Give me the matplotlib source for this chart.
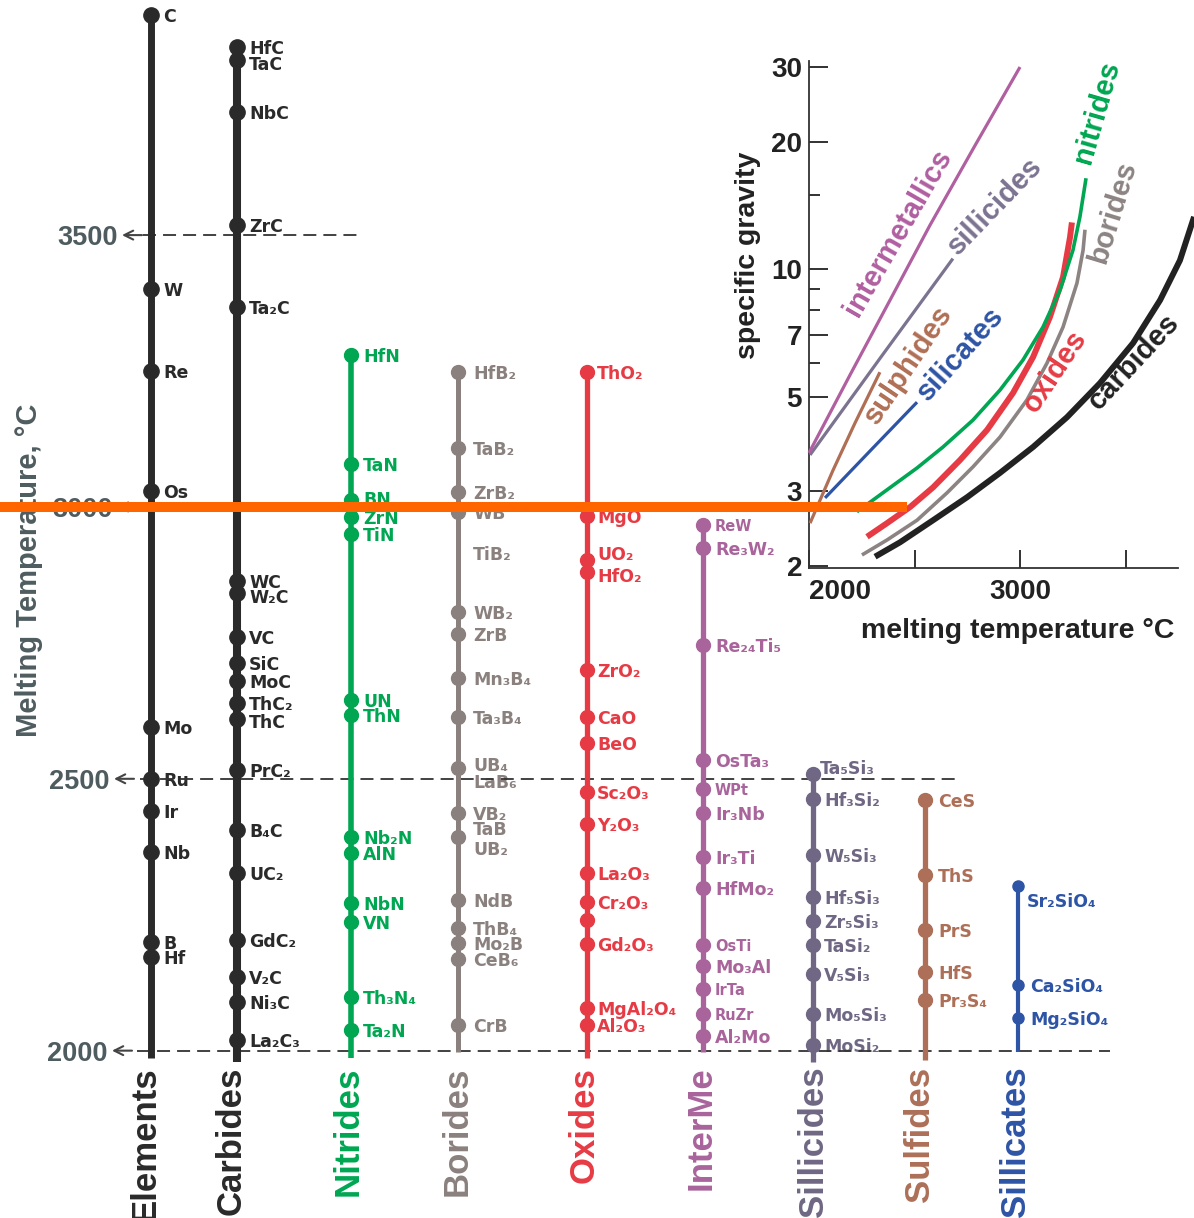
import matplotlib
matplotlib.use("Agg")
import matplotlib.pyplot as plt
from matplotlib.lines import Line2D
from matplotlib.ticker import NullFormatter

W, H, DPI = 1194, 1218, 100

# ---------------- melting temperatures (°C) ----------------
elements_names = ["C", "W", "Re", "Os", "Mo", "Ru", "Ir", "Nb", "B", "Hf"]
elements_T = [3905, 3400, 3250, 3030, 2595, 2500, 2440, 2365, 2200, 2172]

carbides_names = ["HfC", "TaC", "NbC", "ZrC", "Ta₂C", "WC", "W₂C", "VC", "SiC", "MoC",
                  "ThC₂", "ThC", "PrC₂", "B₄C", "UC₂", "GdC₂", "V₂C", "Ni₃C", "La₂C₃"]
carbides_T = [3846, 3822, 3726, 3519, 3368, 2863, 2842, 2761, 2713, 2679,
              2639, 2610, 2516, 2406, 2327, 2204, 2136, 2090, 2020]

nitrides_names = ["HfN", "TaN", "BN", "ZrN", "TiN", "UN", "ThN", "Nb₂N", "AlN",
                  "NbN", "VN", "Th₃N₄", "Ta₂N"]
nitrides_T = [3280, 3079, 3013, 2982, 2950, 2645, 2617, 2393, 2364,
              2272, 2237, 2099, 2038]

borides_names = ["HfB₂", "TaB₂", "ZrB₂", "WB", "TiB₂", "WB₂", "ZrB", "Mn₃B₄", "Ta₃B₄",
                 "UB₄", "LaB₆", "VB₂", "TaB", "UB₂", "NdB", "ThB₄", "Mo₂B", "CeB₆", "CrB"]
borides_T = [3248, 3108, 3028, 2991, 2915, 2806, 2766, 2685, 2614,
             2520, 2496, 2437, 2393, 2373, 2277, 2226, 2198, 2169, 2047]
borides_dot = [1, 1, 1, 1, 0, 1, 1, 1, 1, 1, 0, 1, 1, 0, 1, 1, 1, 1, 1]

oxides_names = ["ThO₂", "MgO", "UO₂", "HfO₂", "ZrO₂", "CaO", "BeO", "Sc₂O₃", "Y₂O₃",
                "La₂O₃", "Cr₂O₃", "", "Gd₂O₃", "MgAl₂O₄", "Al₂O₃"]
oxides_T = [3248, 2983, 2902, 2881, 2700, 2614, 2566, 2476, 2417,
            2327, 2273, 2240, 2197, 2079, 2047]

interme_names = ["ReW", "Re₃W₂", "Re₂₄Ti₅", "OsTa₃", "WPt", "Ir₃Nb", "Ir₃Ti", "HfMo₂",
                 "OsTi", "Mo₃Al", "IrTa", "RuZr", "Al₂Mo"]
interme_T = [2967, 2925, 2746, 2535, 2481, 2437, 2356, 2299,
             2195, 2156, 2113, 2067, 2027]

silicides_names = ["Ta₅Si₃", "Hf₃Si₂", "W₅Si₃", "Hf₅Si₃", "Zr₅Si₃", "TaSi₂", "V₅Si₃",
                   "Mo₅Si₃", "MoSi₂"]
silicides_T = [2509, 2462, 2360, 2283, 2238, 2195, 2141, 2067, 2011]

sulfides_names = ["CeS", "ThS", "PrS", "HfS", "Pr₃S₄"]
sulfides_T = [2461, 2323, 2222, 2145, 2093]

silicates_names = ["Sr₂SiO₄", "Ca₂SiO₄", "Mg₂SiO₄"]
silicates_T = [2303, 2121, 2060]

temp_ticks = [2000, 2500, 3000, 3500]

# ---------------- specific gravity vs melting temperature ----------------
inter_T = [2000, 2194, 2384, 2573, 2787, 3000]
inter_SG = [3.69, 5.63, 8.46, 12.7, 19.6, 30.0]
silicid_T = [2005, 2341, 2682]
silicid_SG = [3.65, 6.21, 10.6]
sulph_T = [2005, 2114, 2218, 2336]
sulph_SG = [2.52, 3.36, 4.34, 5.72]
silicat_T = [2076, 2294, 2512]
silicat_SG = [2.89, 3.75, 4.86]
nitr_T = [2227, 2370, 2512, 2635, 2777, 2905, 3014, 3109, 3190, 3251, 3284, 3313]
nitr_SG = [2.68, 3.02, 3.40, 3.81, 4.41, 5.19, 6.11, 7.31, 8.94, 11.1, 13.3, 16.4]
oxid_T = [2275, 2370, 2479, 2588, 2716, 2844, 2967, 3062, 3142, 3204, 3237, 3246]
oxid_SG = [2.34, 2.52, 2.75, 3.06, 3.55, 4.18, 5.11, 6.21, 7.72, 9.59, 11.9, 12.9]
borid_T = [2251, 2370, 2512, 2654, 2777, 2905, 3033, 3128, 3204, 3270, 3299, 3308]
borid_SG = [2.12, 2.30, 2.56, 2.97, 3.42, 4.02, 4.92, 6.01, 7.31, 9.28, 11.1, 12.4]
carb_T = [2313, 2431, 2588, 2749, 2905, 3062, 3223, 3379, 3536, 3664, 3758, 3825]
carb_SG = [2.10, 2.27, 2.56, 2.90, 3.31, 3.81, 4.48, 5.39, 6.70, 8.46, 10.5, 13.3]

sg_major = [2, 3, 5, 7, 10, 20, 30]
sg_minor = [6, 8, 9, 15]

# ---------------- styling ----------------
SLATE = "#4e5c60"
C_EL = "#2a2a2a"
C_NIT = "#00a651"
C_BOR = "#8a817f"
C_OX = "#e63b44"
C_IM = "#a8649b"
C_SID = "#6f6783"
C_SUL = "#ad6f57"
C_SIL = "#2e54a5"

LAB_FONT = "DejaVu Sans"
HEAD_FONT = ["Liberation Sans", "DejaVu Sans"]

fig = plt.figure(figsize=(W / DPI, H / DPI), dpi=DPI)
fig.patch.set_facecolor("white")

# main panel: x in layout units (pixels), y in °C
ax = fig.add_axes([0, 0, 1, 1])
ax.set_xlim(0, W)
ax.set_ylim(1692.2, 3932.4)
ax.axis("off")


def fx(x):
    return x / W


def fy(y):
    return 1 - y / H


columns = [
    dict(title="Elements", names=elements_names, temps=elements_T, x=151, color=C_EL,
         lw=5.0, ms=11, bottom=1987, tx=147),
    dict(title="Carbides", names=carbides_names, temps=carbides_T, x=237, color=C_EL,
         lw=5.8, ms=11, bottom=1980, tx=233),
    dict(title="Nitrides", names=nitrides_names, temps=nitrides_T, x=351, color=C_NIT,
         lw=4.0, ms=10, bottom=1987, tx=350),
    dict(title="Borides", names=borides_names, temps=borides_T, x=458, color=C_BOR,
         lw=3.6, ms=10, bottom=1998, tx=459, dots=borides_dot, dx=15),
    dict(title="Oxides", names=oxides_names, temps=oxides_T, x=587, color=C_OX,
         lw=3.8, ms=10, bottom=1987, tx=586, dx=10),
    dict(title="InterMe", names=interme_names, temps=interme_T, x=703, color=C_IM,
         lw=3.8, ms=10, bottom=1997, tx=703),
    dict(title="Sillicides", names=silicides_names, temps=silicides_T, x=813, color=C_SID,
         lw=3.8, ms=10, bottom=1980, tx=815, dx=11),
    dict(title="Sulfides", names=sulfides_names, temps=sulfides_T, x=925, color=C_SUL,
         lw=3.8, ms=10, bottom=1983, tx=922, dx=13),
    dict(title="Sillicates", names=silicates_names, temps=silicates_T, x=1018, color=C_SIL,
         lw=3.0, ms=8, bottom=1998, tx=1018, dx=12),
]

# label nudges in pixels (dx, dy) where labels sit off their dot
nudge = {"TaC": (0, 3), "W₂C": (0, 3), "ThC": (0, 2), "UB₄": (0, -4), "TaB": (0, -9),
         "Sr₂SiO₄": (-3, 14), "Ta₅Si₃": (-4, -7), "UO₂": (0, -7), "HfO₂": (0, 3),
         "BN": (0, -2), "LaB₆": (0, 0)}
small = {"ReW", "WPt", "IrTa", "RuZr", "OsTi"}

# reference temperature lines
dash = (0, (7.2, 3.9))
ax.plot([137, 1110], [2000, 2000], color="#333333", lw=1.3, ls=dash, zorder=2)
ax.plot([140, 958], [2500, 2500], color="#333333", lw=1.3, ls=dash, zorder=2)
ax.plot([143, 362], [3500, 3500], color="#333333", lw=1.3, ls=dash, zorder=2)

tick_right = {2000: 108, 2500: 110, 3000: 113, 3500: 118}
for t in temp_ticks:
    xr = tick_right[t]
    ax.text(xr, t, str(t), ha="right", va="center_baseline", fontsize=19.5,
            fontweight="bold", family=HEAD_FONT, color=SLATE, zorder=2)
    ax.annotate("", xy=(xr + 4, t), xytext=(xr + 24, t),
                arrowprops=dict(arrowstyle="->", lw=1.5, color="#444444",
                                shrinkA=0, shrinkB=0, mutation_scale=16), zorder=2)

fig.text(fx(29), fy(570), "Melting Temperature, °C", rotation=90, ha="center",
         va="center", fontsize=21, fontweight="bold", family=HEAD_FONT, color=SLATE)

for col in columns:
    c = col["color"]
    x = col["x"]
    temps = col["temps"]
    dots = col.get("dots", [1] * len(temps))
    ax.plot([x, x], [col["bottom"], max(temps)], color=c, lw=col["lw"],
            solid_capstyle="butt", zorder=3)
    for name, t, d in zip(col["names"], temps, dots):
        if d:
            ax.plot(x, t, "o", ms=col["ms"], color=c, mec=c, zorder=4)
        if name:
            ndx, ndy = nudge.get(name, (0, 0))
            ax.annotate(name, (x, t), xytext=(col.get("dx", 12) + ndx, -ndy),
                        textcoords="offset pixels", ha="left", va="center_baseline",
                        fontsize=10.5 if name in small else 12.5, fontweight="bold",
                        family=LAB_FONT, color=c, zorder=1)
    ax.annotate(col["title"], (col["tx"], 2000), xytext=(-2, -16),
                textcoords="offset pixels", rotation=90, ha="center", va="top",
                fontsize=25, fontweight="bold", family=HEAD_FONT, color=c)

# ---------------- inset: specific gravity ----------------
ax2 = fig.add_axes([fx(809), fy(568), (1178 - 809) / W, (568 - 61) / H])
ax2.set_facecolor("none")
ax2.set_yscale("log")
ax2.set_xlim(2000, 2000 + (1178 - 809) / 0.211)
ax2.set_ylim(1.975, 31.0)
for s in ("top", "right"):
    ax2.spines[s].set_visible(False)
for s in ("left", "bottom"):
    ax2.spines[s].set_color("#333333")
    ax2.spines[s].set_linewidth(1.3)

ax2.set_yticks(sg_major)
ax2.set_yticklabels([str(v) for v in sg_major])
ax2.set_yticks(sg_minor, minor=True)
ax2.yaxis.set_minor_formatter(NullFormatter())
ax2.set_xticks(temp_ticks)
ax2.set_xticklabels(["2000", "", "3000", ""])
ax2.tick_params(axis="y", which="major", direction="in", length=14, width=1.3,
                pad=5, labelsize=20, colors="#222222")
ax2.tick_params(axis="y", which="minor", direction="in", length=8, width=1.3,
                colors="#222222")
ax2.tick_params(axis="x", which="major", direction="in", length=13, width=1.3,
                pad=8, labelsize=20, colors="#222222")
for lab in ax2.get_xticklabels() + ax2.get_yticklabels():
    lab.set_fontweight("bold")
    lab.set_family(HEAD_FONT)
ax2.get_xticklabels()[0].set_ha("left")

curves = [
    (carb_T, carb_SG, "#222222", 4.3, 3),
    (borid_T, borid_SG, "#8c8482", 2.6, 3),
    (oxid_T, oxid_SG, C_OX, 4.3, 4),
    (nitr_T, nitr_SG, C_NIT, 2.6, 5),
    (silicat_T, silicat_SG, C_SIL, 2.3, 5),
    (sulph_T, sulph_SG, "#b06f55", 2.3, 5),
    (silicid_T, silicid_SG, "#7b7390", 2.3, 5),
    (inter_T, inter_SG, "#b05fa0", 2.3, 5),
]
for tx, sg, c, lw, z in curves:
    ax2.plot(tx, sg, color=c, lw=lw, zorder=z, clip_on=False,
             solid_capstyle="butt", solid_joinstyle="round")

curve_labels = [
    ("intermetallics", 898, 233, 60, "#b05fa0"),
    ("sillicides", 995, 206, 46, "#7b7390"),
    ("sulphides", 908, 365, 56, "#b06f55"),
    ("silicates", 961, 354, 48, C_SIL),
    ("nitrides", 1097, 112, 74, C_NIT),
    ("borides", 1113, 212, 73, "#8c8482"),
    ("oxides", 1055, 371, 56, C_OX),
    ("carbides", 1134, 362, 47, "#222222"),
]
for text, px, py, rot, c in curve_labels:
    fig.text(fx(px), fy(py), text, rotation=rot, rotation_mode="anchor",
             ha="center", va="center", fontsize=21, fontweight="bold",
             family=HEAD_FONT, color=c)

fig.text(fx(748), fy(255), "specific gravity", rotation=90, ha="center", va="center",
         fontsize=20.5, fontweight="bold", family=HEAD_FONT, color="#222222")
fig.text(fx(1018), fy(631), "melting temperature °C", ha="center", va="center",
         fontsize=20.5, fontweight="bold", family=HEAD_FONT, color="#222222")

# highlight at 3000 °C drawn over both panels
fig.add_artist(Line2D([0, 907], [3000, 3000], transform=ax.transData, color="#ff6600",
                      lw=7.2, solid_capstyle="butt", zorder=20))

fig.savefig("out.png", dpi=DPI, facecolor="white")
